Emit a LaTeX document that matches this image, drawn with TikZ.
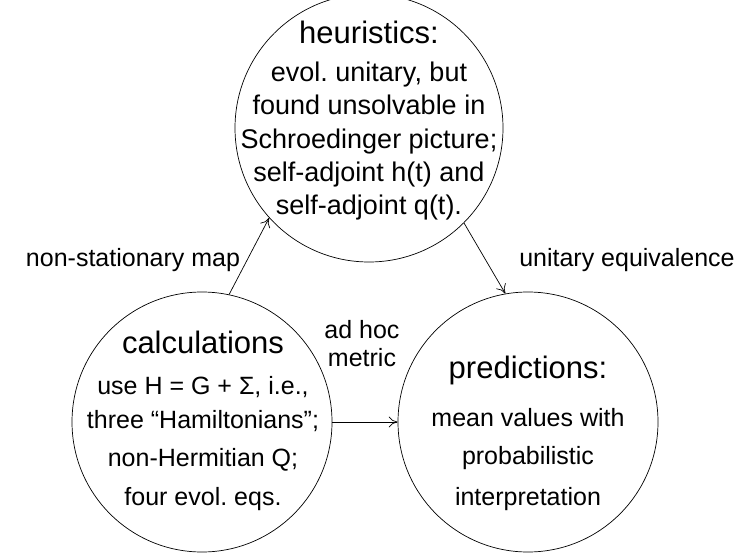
\documentclass[tikz,border=0pt]{standalone}
\usepackage{fontspec}
\setmainfont{Liberation Sans}
\usetikzlibrary{arrows.meta}
\frenchspacing
\begin{document}
\begin{tikzpicture}[x=1pt,y=-1pt,
  bubble/.style={draw=black, line width=0.7pt, circle, minimum size=260pt, inner sep=0pt},
  ttl/.style={anchor=base, inner sep=0pt, font=\fontsize{31}{31}\selectfont},
  txt/.style={anchor=base, inner sep=0pt, font=\fontsize{25}{25}\selectfont},
  toptxt/.style={anchor=base, inner sep=0pt, font=\fontsize{27}{27}\selectfont},
  conn/.style={draw=black, line width=0.7pt, -{To[length=9pt,width=11pt]}}]
\useasboundingbox (0,0) rectangle (741,553);
\node[bubble, minimum size=268pt] (heu) at (369,128) {};
\node[bubble] (calc) at (202,422) {};
\node[bubble] (pred) at (528,422) {};
% top
\node[ttl] (h0) at (369,44) {heuristics:};
\node[toptxt] (h1) at (369,82) {evol. unitary, but};
\node[toptxt] (h2) at (369,115) {found unsolvable in};
\node[toptxt] (h3) at (369,149) {Schroedinger picture;};
\node[toptxt] (h4) at (369,182) {self-adjoint h(t) and};
\node[toptxt] (h5) at (369,215) {self-adjoint q(t).};
% bottom left
\node[ttl] (c0) at (203,353) {calculations};
\node[txt] (c1) at (203,394) {use H = G + Σ, i.e.,};
\node[txt] (c2) at (203,428) {three “Hamiltonians”;};
\node[txt] (c3) at (203,466) {non-Hermitian Q;};
\node[txt] (c4) at (203,505) {four evol. eqs.};
% bottom right
\node[ttl] (p0) at (528,378) {predictions:};
\node[txt] (p1) at (528,426) {mean values with};
\node[txt] (p2) at (528,464) {probabilistic};
\node[txt] (p3) at (528,505) {interpretation};
% labels
\node[txt] (l1) at (133,266) {non-stationary map};
\node[txt] (l2) at (627,266) {unitary equivalence};
\node[txt] (l3) at (362,338) {ad hoc};
\node[txt] (l4) at (362,366) {metric};
% connectors
\draw[conn] (calc.78) -- (heu.222);
\draw[conn] (heu.-45) -- (pred.100);
\draw[conn] (calc.east) -- (pred.west);
\end{tikzpicture}
\end{document}
